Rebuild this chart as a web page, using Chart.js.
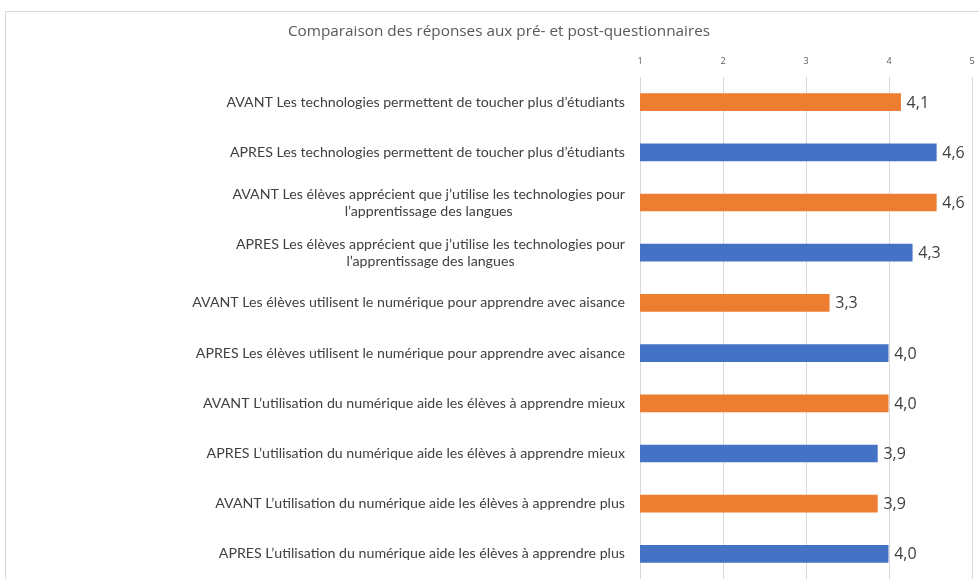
<!DOCTYPE html>
<html>
<head>
<meta charset="utf-8">
<script src="https://cdn.jsdelivr.net/npm/chart.js@4"></script>
<style>
  html, body { margin: 0; padding: 0; background: #fff; }
  #wrap { width: 979px; height: 579px; position: relative; }
</style>
</head>
<body>
<div id="wrap"><canvas id="myChart"></canvas></div>
<script>
const titre = "Comparaison des réponses aux pré- et post-questionnaires";

const questions = [
  ["AVANT Les technologies permettent de toucher plus d’étudiants"],
  ["APRES Les technologies permettent de toucher plus d’étudiants"],
  ["AVANT Les élèves apprécient que j’utilise les technologies pour", "l’apprentissage des langues"],
  ["APRES Les élèves apprécient que j’utilise les technologies pour", "l’apprentissage des langues"],
  ["AVANT Les élèves utilisent le numérique pour apprendre avec aisance"],
  ["APRES Les élèves utilisent le numérique pour apprendre avec aisance"],
  ["AVANT L’utilisation du numérique aide les élèves à apprendre mieux"],
  ["APRES L’utilisation du numérique aide les élèves à apprendre mieux"],
  ["AVANT L’utilisation du numérique aide les élèves à apprendre plus"],
  ["APRES L’utilisation du numérique aide les élèves à apprendre plus"]
];

const moyennes = [4.14, 4.57, 4.57, 4.28, 3.28, 3.99, 3.99, 3.86, 3.86, 3.99];

const graduations = [1, 2, 3, 4, 5];

const orange = "#ED7D31";
const bleu = "#4472C4";

// dessin du cadre, du titre, des libellés et des valeurs
const decor = {
  id: "decor",
  beforeDraw(chart) {
    const ctx = chart.ctx;
    ctx.save();
    ctx.strokeStyle = "#d9d9d9";
    ctx.lineWidth = 1;
    ctx.strokeRect(5.5, 11.5, 1000, 600);
    ctx.fillStyle = "#595959";
    ctx.font = "15.3px 'Open Sans', sans-serif";
    ctx.textAlign = "center";
    ctx.textBaseline = "middle";
    ctx.fillText(titre, 499, 32);
    ctx.restore();
  },
  afterDatasetsDraw(chart) {
    const ctx = chart.ctx;
    const yScale = chart.scales.y;
    const meta = chart.getDatasetMeta(0);
    ctx.save();
    ctx.fillStyle = "#404040";
    ctx.font = "14.2px Lato, sans-serif";
    ctx.textBaseline = "middle";
    ctx.textAlign = "center";
    const droite = 625;
    questions.forEach((lignes, i) => {
      const y = yScale.getPixelForValue(i);
      const largeur = Math.max(...lignes.map(l => ctx.measureText(l).width));
      const cx = droite - largeur / 2;
      const h = 17;
      const y0 = y - (lignes.length - 1) * h / 2;
      lignes.forEach((l, k) => ctx.fillText(l, cx, y0 + k * h));
    });
    ctx.font = "16px 'Open Sans', sans-serif";
    ctx.textAlign = "left";
    meta.data.forEach((bar, i) => {
      const txt = moyennes[i].toFixed(1).replace(".", ",");
      ctx.fillText(txt, bar.x + 6, bar.y + 1);
    });
    ctx.restore();
  }
};

new Chart(document.getElementById("myChart"), {
  type: "bar",
  data: {
    labels: questions,
    datasets: [{
      data: moyennes,
      backgroundColor: (c) => questions[c.dataIndex] && questions[c.dataIndex][0].startsWith("AVANT") ? orange : bleu,
      barThickness: 17
    }]
  },
  options: {
    indexAxis: "y",
    responsive: true,
    maintainAspectRatio: false,
    animation: false,
    layout: { padding: { top: 57, right: 7, bottom: 0, left: 0 } },
    plugins: {
      legend: { display: false },
      tooltip: { enabled: false }
    },
    scales: {
      x: {
        position: "top",
        min: 1,
        max: 5,
        afterBuildTicks: (s) => { s.ticks = graduations.map(v => ({ value: v })); },
        afterFit: (s) => { s.height = 20; s.paddingLeft = 0; s.paddingRight = 0; },
        ticks: { font: { size: 9, family: "'Open Sans', sans-serif" }, color: "#595959", padding: 10 },
        grid: { color: "#d9d9d9", drawTicks: false },
        border: { display: false }
      },
      y: {
        afterFit: (s) => { s.width = 640; },
        ticks: { display: false },
        grid: { display: false },
        border: { display: false }
      }
    }
  },
  plugins: [decor]
});
</script>
</body>
</html>
